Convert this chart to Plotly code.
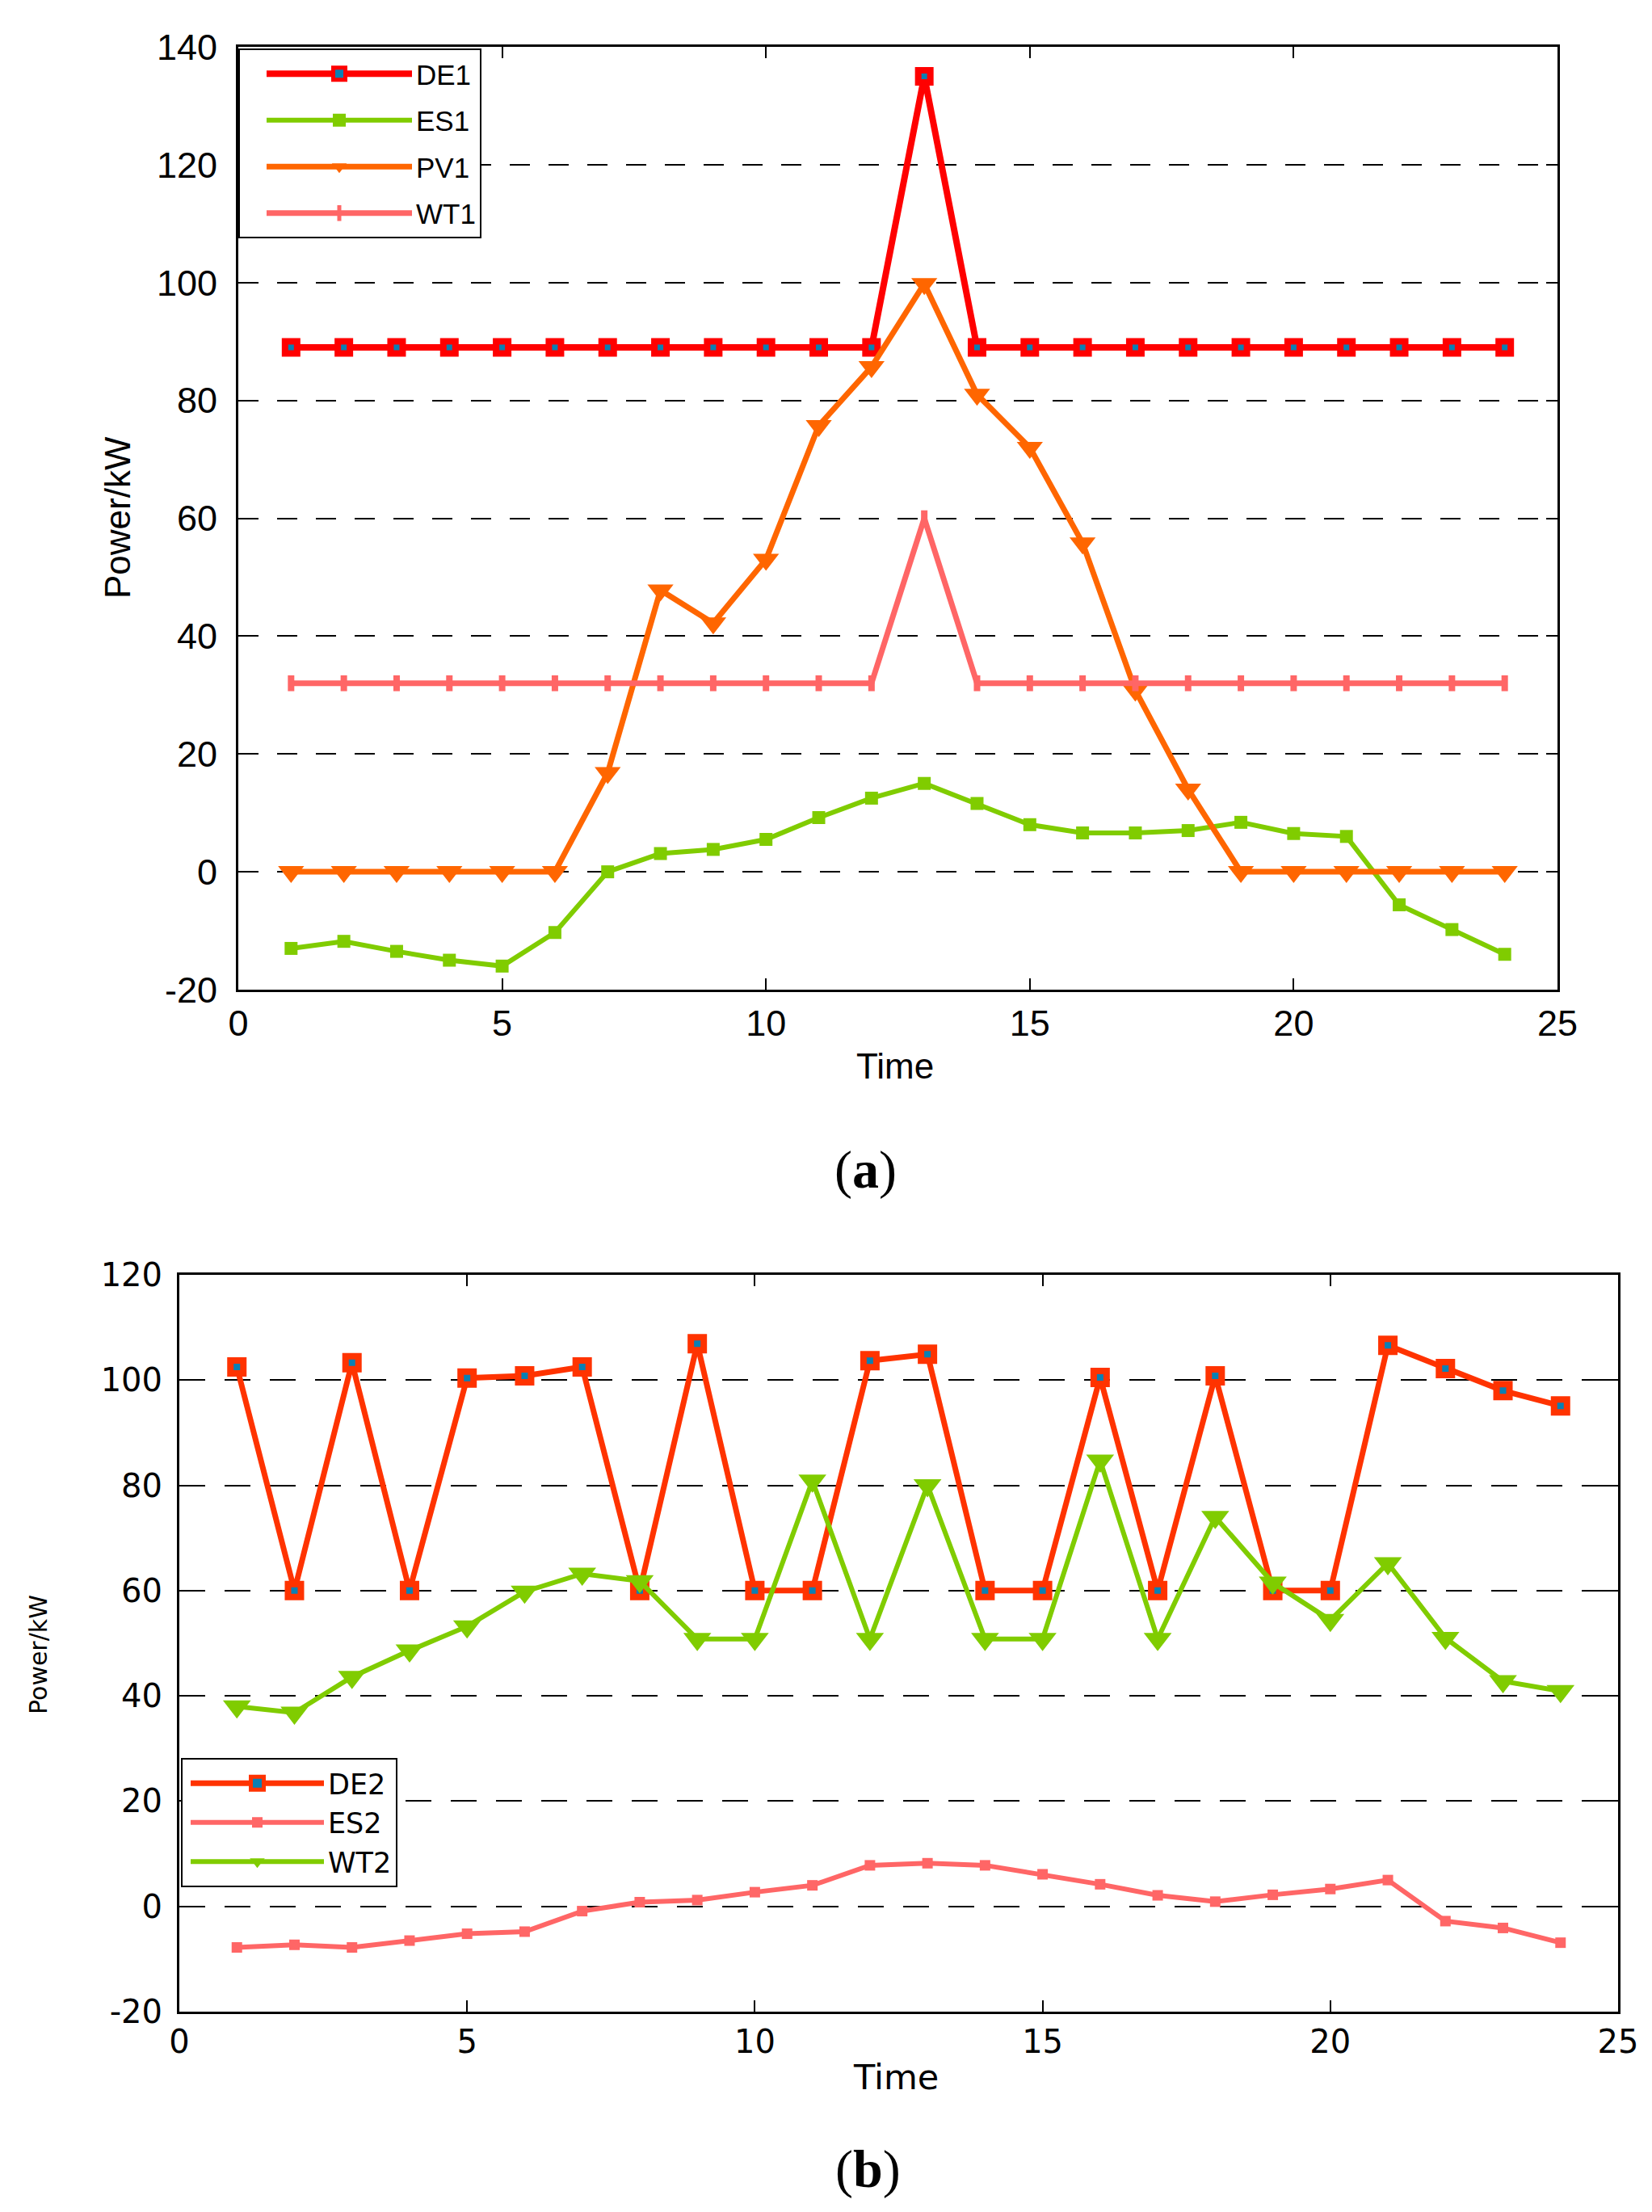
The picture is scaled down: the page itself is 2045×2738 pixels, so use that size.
import plotly.graph_objects as go

# data (hour of day vs power in kW)
hours = [1, 2, 3, 4, 5, 6, 7, 8, 9, 10, 11, 12, 13, 14, 15, 16, 17, 18, 19, 20, 21, 22, 23, 24]

# (a) microgrid 1
de1 = [89, 89, 89, 89, 89, 89, 89, 89, 89, 89, 89, 89, 135, 89, 89, 89, 89, 89, 89, 89, 89, 89, 89, 89]
es1 = [-13, -11.8, -13.5, -15, -16, -10.3, 0, 3.1, 3.8, 5.5, 9.2, 12.5, 15, 11.6, 8, 6.6, 6.6, 7, 8.4, 6.5, 6, -5.6, -9.8, -14]
pv1 = [0, 0, 0, 0, 0, 0, 16.8, 47.8, 42.2, 53, 75.7, 85.7, 99.8, 81, 72, 55.8, 30.8, 14, 0, 0, 0, 0, 0, 0]
wt1 = [32, 32, 32, 32, 32, 32, 32, 32, 32, 32, 32, 32, 60, 32, 32, 32, 32, 32, 32, 32, 32, 32, 32, 32]

# (b) microgrid 2
de2 = [102.5, 60, 103.3, 60, 100.4, 100.8, 102.5, 60, 106.9, 60, 60, 103.7, 104.9, 60, 60, 100.5, 60, 100.8, 60, 60, 106.6, 102.2, 98, 95.1]
es2 = [-7.8, -7.3, -7.8, -6.5, -5.2, -4.8, -0.9, 0.8, 1.2, 2.7, 4.0, 7.8, 8.2, 7.8, 6.1, 4.2, 2.1, 0.9, 2.2, 3.3, 5.0, -2.8, -4.1, -6.9]
wt2 = [38, 36.8, 43.6, 48.6, 53.2, 59.8, 63.2, 61.8, 50.8, 50.8, 80.9, 50.8, 80, 50.8, 50.8, 84.7, 50.8, 74, 61.5, 54.4, 65.2, 51, 42.8, 40.9]

# tick labels (plain hyphen like the original, not the unicode minus)
x_ticks = [0, 5, 10, 15, 20, 25]
y_ticks_a = [-20, 0, 20, 40, 60, 80, 100, 120, 140]
y_ticks_b = [-20, 0, 20, 40, 60, 80, 100, 120]

W, H = 2045, 2738
TEAL = '#0a80b4'

fig = go.Figure()

# --- panel (a) ---
fig.add_trace(go.Scatter(x=hours, y=de1, name='DE1', mode='lines+markers', legendgroup='de1',
                         line=dict(color='#ff0000', width=8),
                         marker=dict(symbol='square', size=15, color=TEAL,
                                     line=dict(color='#ff0000', width=8)),
                         xaxis='x', yaxis='y', legend='legend'))
fig.add_trace(go.Scatter(x=hours, y=es1, name='ES1', mode='lines+markers', legendgroup='es1',
                         line=dict(color='#80cc00', width=6),
                         marker=dict(symbol='square', size=16, color='#80cc00'),
                         xaxis='x', yaxis='y', legend='legend'))
fig.add_trace(go.Scatter(x=hours, y=pv1, name='PV1', mode='lines+markers', legendgroup='pv1',
                         line=dict(color='#ff6600', width=7),
                         marker=dict(symbol='triangle-down', size=28, color='#ff6600'),
                         xaxis='x', yaxis='y', legend='legend'))
fig.add_trace(go.Scatter(x=hours, y=wt1, name='WT1', mode='lines+markers', legendgroup='wt1',
                         line=dict(color='#ff6666', width=7),
                         marker=dict(symbol='line-ns', size=14, color='#ff6666',
                                     line=dict(color='#ff6666', width=8)),
                         xaxis='x', yaxis='y', legend='legend'))

# --- panel (b) ---
fig.add_trace(go.Scatter(x=hours, y=de2, name='DE2', mode='lines+markers', legendgroup='de2',
                         line=dict(color='#ff3300', width=7),
                         marker=dict(symbol='square', size=16, color=TEAL,
                                     line=dict(color='#ff3300', width=8)),
                         xaxis='x2', yaxis='y2', legend='legend2'))
fig.add_trace(go.Scatter(x=hours, y=es2, name='ES2', mode='lines+markers', legendgroup='es2',
                         line=dict(color='#ff6666', width=6),
                         marker=dict(symbol='square', size=13, color='#ff6666'),
                         xaxis='x2', yaxis='y2', legend='legend2'))
fig.add_trace(go.Scatter(x=hours, y=wt2, name='WT2', mode='lines+markers', legendgroup='wt2',
                         line=dict(color='#80cc00', width=6),
                         marker=dict(symbol='triangle-down', size=30, color='#80cc00'),
                         xaxis='x2', yaxis='y2', legend='legend2'))

def px_x(p):
    return p / W

def px_y(p):
    return 1 - p / H

axis_common = dict(showline=True, linecolor='black', linewidth=3, mirror='allticks',
                   ticks='inside', ticklen=14, tickwidth=2, tickcolor='black',
                   zeroline=False, automargin=False)

def ticks(vals):
    return dict(tickmode='array', tickvals=vals, ticktext=[str(v) for v in vals])

fig.update_layout(
    width=W, height=H,
    paper_bgcolor='white', plot_bgcolor='white',
    margin=dict(l=0, r=0, t=0, b=0, autoexpand=False),
    font=dict(family='Liberation Sans, Arial, sans-serif', color='black'),
    xaxis=dict(domain=[px_x(287), px_x(1920)], range=[0, 25], showgrid=False,
               anchor='y', tickfont=dict(size=45), ticklabelstandoff=0,
               **ticks(x_ticks), **axis_common),
    yaxis=dict(domain=[px_y(1217), px_y(50)], range=[-20, 140], anchor='x',
               showgrid=True, gridcolor='black', gridwidth=2, griddash='25px,23px',
               tickfont=dict(size=45), ticklabelstandoff=14,
               **ticks(y_ticks_a), **axis_common),
    xaxis2=dict(domain=[px_x(214), px_x(1995)], range=[0, 25], showgrid=False,
                anchor='y2', tickfont=dict(size=40, family='DejaVu Sans'), ticklabelstandoff=0,
                **ticks(x_ticks), **axis_common),
    yaxis2=dict(domain=[px_y(2482), px_y(1570)], range=[-20, 120], anchor='x2',
                showgrid=True, gridcolor='black', gridwidth=2, griddash='32px,24px',
                tickfont=dict(size=40, family='DejaVu Sans'), ticklabelstandoff=10,
                **ticks(y_ticks_b), **axis_common),
    legend=dict(x=px_x(287), y=px_y(52), xanchor='left', yanchor='top',
                bgcolor='white', bordercolor='black', borderwidth=2,
                font=dict(size=35), indentation=28, itemwidth=180,
                tracegroupgap=9),
    legend2=dict(x=px_x(216), y=px_y(2168), xanchor='left', yanchor='top',
                 bgcolor='white', bordercolor='black', borderwidth=2,
                 font=dict(size=35, family='DejaVu Sans'), indentation=5, itemwidth=165,
                 tracegroupgap=0),
)

labels = [
    dict(text='Power/kW', x=px_x(137), y=px_y(633), textangle=-90, font=dict(size=44)),
    dict(text='Time', x=px_x(1100), y=px_y(1312), font=dict(size=44)),
    dict(text='(<b>a</b>)', x=px_x(1063), y=px_y(1440),
         font=dict(size=66, family='Liberation Serif, Times New Roman, serif')),
    dict(text='Power/kW', x=px_x(39), y=px_y(2040), textangle=-90,
         font=dict(size=30, family='DejaVu Sans')),
    dict(text='Time', x=px_x(1101), y=px_y(2563), font=dict(size=43, family='DejaVu Sans')),
    dict(text='(<b>b</b>)', x=px_x(1066), y=px_y(2677),
         font=dict(size=66, family='Liberation Serif, Times New Roman, serif')),
]
for a in labels:
    fig.add_annotation(xref='paper', yref='paper', showarrow=False,
                       xanchor='center', yanchor='middle', **a)

fig.write_html("out.html")
